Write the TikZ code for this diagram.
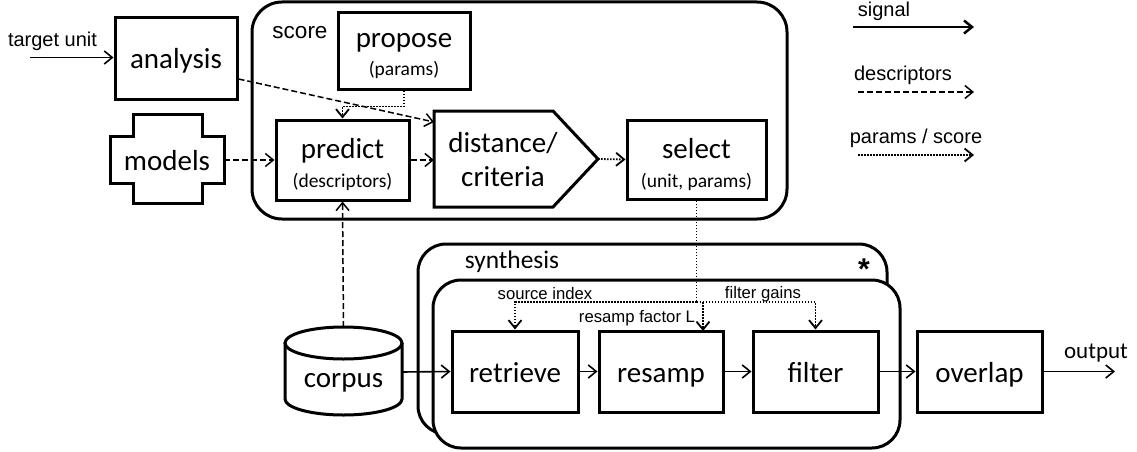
\documentclass[tikz,border=0pt]{standalone}
\usepackage{fontspec}
\setmainfont{Carlito}
\newfontfamily\arialf{Liberation Sans}
\usetikzlibrary{arrows.meta,calc}
\tikzset{
  box/.style={draw, line width=3pt, fill=white, inner sep=0pt},
  big/.style={font=\fontsize{29}{30}\selectfont, inner sep=0pt, anchor=base},
  sub/.style={font=\fontsize{19.5}{20}\selectfont, inner sep=0pt, anchor=base},
  lab/.style={font=\arialf\fontsize{20}{21}\selectfont, inner sep=0pt, anchor=base},
  small/.style={font=\arialf\fontsize{16.7}{17}\selectfont, inner sep=0pt, anchor=base},
  tipend/.style={-{Straight Barb[length=8pt,width=13pt]}},
  sig/.style={tipend, line width=1.6pt},
  desc/.style={tipend, line width=1.5pt, dash pattern=on 6pt off 3pt},
  param/.style={tipend, line width=1.8pt, dash pattern=on 1.6pt off 1.4pt},
}
\begin{document}
\begin{tikzpicture}[x=1pt,y=-1pt]
\useasboundingbox (0,0) rectangle (1137,452);
% containers
\node[box, rounded corners=30pt, minimum width=535pt, minimum height=217pt] (score) at (519.5,110.5) {};
\node[box, rounded corners=28pt, minimum width=469pt, minimum height=190pt] (synB) at (652.5,339) {};
\node[box, rounded corners=28pt, minimum width=467pt, minimum height=168pt] (synF) at (666.5,364) {};
\node[font=\arialf\fontsize{22.5}{23}\selectfont, inner sep=0pt, anchor=base] (scorelab) at (300,38) {score};
\node[font=\fontsize{25.4}{26}\selectfont, inner sep=0pt, anchor=base] (synlab) at (512,268) {synthesis};
\node[font=\arialf\bfseries\fontsize{30}{30}\selectfont, inner sep=0pt, anchor=base] (star) at (864,279) {*};
% boxes
\node[box, minimum width=122pt, minimum height=81pt] (analysis) at (176,58.5) {};
\node[big] (analysisT) at (176,68) {analysis};
\node[box, minimum width=132pt, minimum height=76pt] (propose) at (404,51) {};
\node[big] (proposeT) at (404,48) {propose};
\node[sub] (proposeS) at (404,75) {(params)};
\node[box, minimum width=133pt, minimum height=80pt] (predict) at (342.5,160) {};
\node[big] (predictT) at (342.5,158) {predict};
\node[sub] (predictS) at (342.5,187) {(descriptors)};
\node[box, minimum width=139pt, minimum height=79pt] (select) at (696.5,159.5) {};
\node[big] (selectT) at (696.5,158) {select};
\node[sub] (selectS) at (696.5,187) {(unit, params)};
% models cross
\draw[line width=3pt, fill=white] (133,114) -- (202,114) -- (202,136) -- (224,136) -- (224,183) -- (202,183) -- (202,203) -- (133,203) -- (133,183) -- (110,183) -- (110,136) -- (133,136) -- cycle;
\coordinate (modelsE) at (224,160);
\node[big] (models) at (167,170) {models};
% distance pentagon
\draw[line width=3pt, fill=white] (434,111) -- (553,111) -- (598,159) -- (553,207) -- (434,207) -- cycle;
\coordinate (distW) at (434,160);
\coordinate (distTL) at (434,122);
\coordinate (distTip) at (598,159);
\node[big] (distT) at (503,152) {distance/};
\node[big] (critT) at (503,186) {criteria};
% corpus cylinder
\draw[line width=3pt, fill=white] (285,343) -- (285,399) arc[start angle=180, end angle=0, x radius=58.5, y radius=16] -- (402,343);
\draw[line width=3pt, fill=white] (343.5,343) ellipse[x radius=58.5, y radius=16];
\node[big] (corpus) at (343.5,387) {corpus};
\coordinate (corpusTop) at (343.5,327);
\coordinate (corpusE) at (402,372);
% synthesis chain
\node[box, minimum width=126pt, minimum height=81pt] (retrieve) at (515,371.5) {};
\node[big] (retrieveT) at (515,382) {retrieve};
\node[box, minimum width=124pt, minimum height=81pt] (resamp) at (661,371.5) {};
\node[big] (resampT) at (661,382) {resamp};
\node[box, minimum width=125pt, minimum height=81pt] (filter) at (815.5,371.5) {};
\node[big] (filterT) at (815.5,382) {filter};
\node[box, minimum width=125pt, minimum height=81pt] (overlap) at (979.5,371.5) {};
\node[big] (overlapT) at (979.5,382) {overlap};
% labels
\node[lab] (tulab) at (52.5,47) {target unit};
\node[font=\fontsize{23}{24}\selectfont, inner sep=0pt, anchor=base] (outlab) at (1096,358) {output};
\node[small] (srcidx) at (545,299) {source index};
\node[small] (rsf) at (637,322) {resamp factor L};
\node[small] (fg) at (763,298) {filter gains};
% coordinates
\coordinate (tu) at (30,57.5);
\coordinate (outE) at (1115,371.5);
\coordinate (junc) at (696.5,302);
\coordinate (resampIn) at (703,331);
% connectors
\draw[sig] (tu) -- (tu -| analysis.west);
\draw[desc] ([yshift=-20.5pt]analysis.east) -- (distTL);
\draw[desc] (modelsE) -- (predict.west);
\draw[param] (propose.south) -- ++(0,16) -| (predict.north);
\draw[desc] (predict.east) -- (distW);
\draw[param] (distTip) -- (select.west);
\draw[desc] (corpusTop) -- (predict.south);
\draw[param, -] (select.south) -- (junc);
\draw[param] (junc) -| (retrieve.north);
\draw[param] (junc) -| (filter.north);
\draw[param] (junc -| resampIn) -- (resampIn);
\draw[sig] (corpusE) -- (retrieve.west);
\draw[sig] (retrieve) -- (resamp);
\draw[sig] (resamp) -- (filter);
\draw[sig] (filter) -- (overlap);
\draw[sig] (overlap.east) -- (outE);
% legend
\node[lab] (lsig) at (884,17) {signal};
\coordinate (ls1) at (853,27);
\coordinate (ls2) at (974,27);
\draw[sig, line width=2.5pt] (ls1) -- (ls2);
\node[lab] (ldesc) at (903,81) {descriptors};
\coordinate (ld1) at (858,92);
\coordinate (ld2) at (974,92);
\draw[desc] (ld1) -- (ld2);
\node[lab] (lpar) at (916,143) {params / score};
\coordinate (lp1) at (858,155);
\coordinate (lp2) at (974,155);
\draw[param] (lp1) -- (lp2);
\end{tikzpicture}
\end{document}
